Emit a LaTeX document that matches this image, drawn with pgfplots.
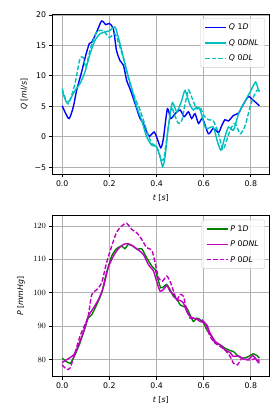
\documentclass[border=0pt]{standalone}
\usepackage{fontspec}
\setmainfont{DejaVu Sans}
\usepackage{pgfplots}
\pgfplotsset{compat=1.18}
\definecolor{mblue}{RGB}{0,0,255}
\definecolor{mcyan}{RGB}{0,191,191}
\definecolor{mgreen}{RGB}{0,128,0}
\definecolor{mmag}{RGB}{191,0,191}
\definecolor{gridc}{RGB}{176,176,176}
\definecolor{legc}{RGB}{204,204,204}
\pgfplotsset{
  mystyle/.style={
    scale only axis, width=217pt,
    xmin=-0.042, xmax=0.878,
    xtick={0,0.2,0.4,0.6,0.8}, xticklabels={0.0,0.2,0.4,0.6,0.8},
    grid=major, grid style={gridc, line width=0.8pt},
    axis line style={line width=0.8pt, black},
    tick align=outside, tick pos=left, major tick length=3.5pt,
    tick style={black, line width=0.8pt},
    tick label style={font=\fontsize{7.8}{9}\selectfont},
    label style={font=\fontsize{7.8}{9}\selectfont},
    xlabel={\itshape t {\upshape[}s{\upshape]}},
    xlabel style={yshift=-2.5pt},
    legend cell align=left,
    legend style={at={(0.98,0.975)}, anchor=north east, draw=legc, rounded corners=2pt,
      fill=white, fill opacity=0.8, text opacity=1, draw opacity=1,
      font=\fontsize{7.8}{9}\selectfont, row sep=4.5pt, inner xsep=4pt, inner ysep=3.5pt},
    legend image code/.code={\draw[##1, line width=1.5pt] (0pt,0pt) -- (21pt,0pt);},
    every axis plot/.append style={line width=1.4pt, smooth, tension=0.4},
  }
}
\begin{document}
\fontsize{7.8}{9}\selectfont
\begin{tikzpicture}[x=1pt,y=1pt]
\useasboundingbox (0,0) rectangle (280,420);
\begin{axis}[mystyle, at={(52.3pt,246pt)}, anchor=south west, height=159.7pt,
  ymin=-6.1, ymax=20.1, ytick={-5,0,5,10,15,20}, yticklabels={−5,0,5,10,15,20},
  ylabel={\itshape Q {\upshape[}ml/s{\upshape]}}, ylabel style={yshift=1.5pt}]
\addplot[mblue] coordinates {
(0,5.1)(0.015,3.8)(0.03,3.0)(0.047,4.9)(0.061,7.6)(0.082,10.6)(0.1,13.4)(0.115,15.3)(0.125,15.5)
(0.146,17.2)(0.167,19.0)(0.185,18.4)(0.2,18.6)(0.217,17.7)(0.23,14.2)(0.245,12.5)(0.26,11.7)
(0.273,9.3)(0.287,7.9)(0.3,6.5)(0.316,4.6)(0.33,3.0)(0.344,2.2)(0.358,0.8)(0.37,0.1)(0.39,0.8)
(0.4,0)(0.418,-1.8)(0.429,-0.3)(0.446,4.6)(0.46,3.0)(0.479,3.8)(0.5,4.4)(0.517,3.3)(0.535,4.1)
(0.549,3.0)(0.563,3.8)(0.578,2.2)(0.595,3.0)(0.62,0.5)(0.641,1.4)(0.663,0.7)(0.677,1.9)(0.69,2.8)
(0.705,2.6)(0.726,3.5)(0.748,3.9)(0.769,5.4)(0.79,6.6)(0.81,6.0)(0.836,5.1)};
\addlegendentry{{\itshape Q} 1{\itshape D}}
\addplot[mcyan] coordinates {
(0,7.4)(0.018,5.7)(0.032,6.0)(0.054,7.6)(0.075,8.7)(0.096,10.6)(0.118,13.6)(0.139,15.8)(0.16,16.9)
(0.181,17.2)(0.2,17.4)(0.224,18.0)(0.238,16.3)(0.252,14.2)(0.273,10.9)(0.295,7.9)(0.316,4.9)
(0.337,2.7)(0.358,0)(0.38,-1.4)(0.4,-1.6)(0.415,-3.3)(0.426,-4.9)(0.436,-3.3)(0.45,1.6)(0.467,5.6)
(0.486,4.1)(0.507,6.0)(0.521,7.6)(0.54,5.4)(0.556,4.4)(0.57,4.9)(0.585,4.4)(0.606,1.6)(0.62,1.4)
(0.641,1.6)(0.656,-0.5)(0.673,-2.2)(0.69,0)(0.705,1.6)(0.726,1.1)(0.748,3.8)(0.769,5.4)(0.8,7.6)
(0.82,9.0)(0.831,7.8)(0.836,7.4)};
\addlegendentry{{\itshape Q} 0{\itshape DNL}}
\addplot[mcyan, dash pattern=on 4.5pt off 2pt] coordinates {
(0,7.9)(0.025,5.4)(0.054,8.7)(0.075,12.8)(0.089,13.0)(0.1,11.4)(0.118,14.2)(0.146,17.2)(0.174,17.4)
(0.2,16.3)(0.224,16.9)(0.245,14.7)(0.266,12.0)(0.287,8.7)(0.309,6.3)(0.33,4.4)(0.358,1.1)(0.38,-1.1)
(0.4,-1.6)(0.421,-3.8)(0.432,-3.3)(0.45,1.6)(0.464,4.9)(0.474,3.8)(0.493,2.2)(0.507,2.7)(0.521,5.4)
(0.535,7.7)(0.549,6.5)(0.57,4.6)(0.585,4.9)(0.6,3.5)(0.62,2.8)(0.641,2.6)(0.663,0.5)(0.681,-2.1)
(0.698,-0.5)(0.715,1.4)(0.733,2.2)(0.755,0.5)(0.776,1.9)(0.8,5.4)(0.814,6.8)(0.825,7.6)(0.836,7.7)};
\addlegendentry{{\itshape Q} 0{\itshape DL}}
\end{axis}
\begin{axis}[mystyle, at={(52.3pt,43.3pt)}, anchor=south west, height=161pt,
  ymin=74.85, ymax=123.1, ytick={80,90,100,110,120},
  ylabel={\itshape P {\upshape[}mmHg{\upshape]}}, ylabel style={yshift=3pt}]
\addplot[mgreen] coordinates {
(0,80.4)(0.018,79.4)(0.035,78.9)(0.054,81.4)(0.075,84.9)(0.096,89.4)(0.11,92.4)(0.125,93.4)
(0.146,96.4)(0.167,99.9)(0.188,106.0)(0.21,111.0)(0.23,113.2)(0.252,114.0)(0.266,113.2)(0.28,114.5)
(0.3,114.0)(0.318,113.0)(0.337,113.2)(0.358,110.5)(0.38,108.0)(0.394,107.0)(0.408,103.5)(0.418,101.5)
(0.43,101.8)(0.443,102.5)(0.457,101.0)(0.472,98.9)(0.486,98.1)(0.5,96.4)(0.514,95.9)(0.528,95.4)
(0.542,93.4)(0.556,91.4)(0.57,92.4)(0.585,91.9)(0.6,90.9)(0.613,88.9)(0.634,86.9)(0.649,84.9)
(0.67,84.4)(0.69,83.4)(0.712,82.7)(0.726,82.4)(0.748,80.9)(0.769,80.4)(0.79,80.9)(0.81,81.7)
(0.825,81.2)(0.836,80.4)};
\addlegendentry{{\itshape P} 1{\itshape D}}
\addplot[mmag] coordinates {
(0,79.1)(0.018,79.9)(0.04,80.9)(0.054,81.9)(0.075,85.4)(0.096,89.4)(0.11,92.9)(0.132,95.4)(0.153,97.9)
(0.174,101.5)(0.195,107.5)(0.217,111.0)(0.238,113.2)(0.26,114.5)(0.28,114.7)(0.3,114.0)(0.323,112.8)
(0.344,111.5)(0.365,108.5)(0.387,106.5)(0.4,103.5)(0.415,100.5)(0.43,101.0)(0.443,102.2)(0.457,100.5)
(0.472,99.5)(0.486,97.9)(0.5,97.7)(0.514,96.9)(0.528,94.4)(0.542,92.9)(0.556,92.4)(0.57,92.1)
(0.585,91.4)(0.6,91.1)(0.613,90.4)(0.627,87.9)(0.649,85.4)(0.67,84.4)(0.69,82.9)(0.712,82.1)
(0.726,80.9)(0.748,81.1)(0.769,80.1)(0.79,80.1)(0.81,81.1)(0.83,79.2)(0.836,78.9)};
\addlegendentry{{\itshape P} 0{\itshape DNL}}
\addplot[mmag, dash pattern=on 4.5pt off 2pt] coordinates {
(0,78.4)(0.018,77.1)(0.033,77.4)(0.054,81.9)(0.075,86.9)(0.096,90.4)(0.11,92.9)(0.125,99.4)
(0.146,100.9)(0.167,102.9)(0.188,109.0)(0.21,114.0)(0.23,118.0)(0.252,120.0)(0.273,120.8)(0.295,119.0)
(0.316,118.0)(0.337,116.0)(0.358,113.5)(0.38,112.8)(0.394,109.0)(0.408,104.5)(0.425,103.5)(0.443,105.0)
(0.457,103.5)(0.472,100.5)(0.486,97.9)(0.5,99.5)(0.514,98.9)(0.528,94.9)(0.542,92.4)(0.556,92.4)
(0.573,92.1)(0.592,91.9)(0.61,90.4)(0.627,86.9)(0.649,84.9)(0.67,83.9)(0.69,82.9)(0.712,80.9)
(0.726,78.9)(0.743,78.4)(0.762,80.4)(0.783,79.9)(0.804,79.9)(0.823,80.4)(0.836,79.4)};
\addlegendentry{{\itshape P} 0{\itshape DL}}
\end{axis}
\end{tikzpicture}
\end{document}
